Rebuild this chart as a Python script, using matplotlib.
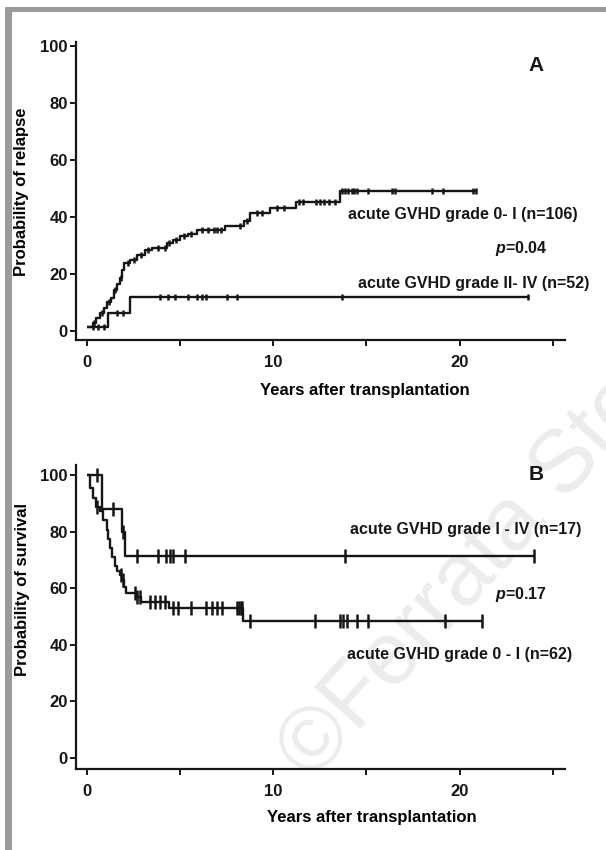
import numpy as np
import matplotlib
matplotlib.use("Agg")
import matplotlib.pyplot as plt
from matplotlib.patches import Rectangle

plt.rcParams['font.family'] = ['Liberation Sans', 'DejaVu Sans']
plt.rcParams['font.weight'] = 'bold'
plt.rcParams['axes.labelweight'] = 'bold'
plt.rcParams['mathtext.fontset'] = 'custom'
plt.rcParams['mathtext.it'] = 'Liberation Sans:bold:italic'
plt.rcParams['mathtext.rm'] = 'Liberation Sans:bold'

# --- panel A: cumulative incidence of relapse ---
a_low_t = [0, 0.3, 0.5, 0.7, 0.9, 1.1, 1.3, 1.45, 1.6, 1.75, 1.9, 2.0, 2.3, 2.7,
           3.1, 3.5, 4.3, 4.6, 5.0, 5.4, 5.9, 7.4, 8.45, 8.75, 9.85, 11.2, 13.6]
a_low_y = [1.4, 2.8, 4.5, 6.3, 8.2, 10, 11.6, 14.4, 16.5, 18.5, 21.4, 23.8, 25, 26.7,
           28.4, 29, 31, 32, 33.2, 34.2, 35.4, 36.8, 38.5, 41.4, 43.1, 45.1, 49.2]
a_low_end = 20.9
a_low_cens = [0.4, 0.8, 1.2, 1.5, 1.8, 2.2, 2.5, 2.9, 3.3, 3.8, 4.2, 4.4, 4.8, 5.2, 5.6,
              6.2, 6.5, 6.8, 7.0, 7.2, 8.2, 8.6, 9.1, 9.4, 10.2, 10.6, 11.4, 11.6, 12.3,
              12.5, 12.7, 13.0, 13.3, 13.7, 13.85, 14.0, 14.2, 14.35, 14.5, 15.1, 16.4,
              16.55, 18.5, 19.1, 20.7, 20.9]

a_high_t = [0, 1.15, 2.3]
a_high_y = [1.4, 6.3, 11.8]
a_high_end = 23.7
a_high_cens = [0.3, 0.6, 0.9, 1.6, 1.95, 3.9, 4.35, 4.7, 5.4, 5.9, 6.2, 6.4, 7.5, 8.05,
               13.7, 23.7]

# --- panel B: survival ---
b_high_t = [0, 0.8, 1.9, 2.05]
b_high_y = [100, 88, 80, 71.5]
b_high_end = 24.0
b_high_cens = [0.55, 1.4, 1.95, 2.7, 3.8, 4.25, 4.45, 4.6, 5.25, 13.85, 24.0]

b_low_t = [0, 0.15, 0.3, 0.5, 0.7, 0.85, 1.05, 1.15, 1.25, 1.35, 1.5, 1.6, 1.75, 1.9,
           2.0, 2.1, 2.7, 2.9, 4.4, 8.4]
b_low_y = [100, 95.2, 91.9, 88.7, 87.1, 83.9, 80.6, 77.4, 74.2, 71.0, 67.7, 66.1, 64.5,
           62.9, 60.4, 58.3, 56.8, 55.2, 53.0, 48.4]
b_low_end = 21.2
b_low_cens = [0.55, 1.85, 1.95, 2.6, 2.7, 2.85, 3.4, 3.65, 3.9, 4.2, 4.6, 4.9, 5.6, 6.4,
              6.7, 7.0, 7.25, 8.05, 8.15, 8.25, 8.3, 8.75, 12.25, 13.6, 13.75, 13.95,
              14.5, 15.1, 19.2, 21.2]

y_ticks = [0, 20, 40, 60, 80, 100]
x_major = [0, 10, 20]
x_minor = [5, 15, 25]

INK = '#161616'


def km(ax, t, y, end, cens, ms):
    tt = list(t) + [end]
    yy = list(y) + [y[-1]]
    ax.step(tt, yy, where='post', color=INK, lw=1.7, solid_capstyle='butt')
    idx = np.searchsorted(t, cens, side='right') - 1
    cy = np.array(y)[idx]
    ax.plot(cens, cy, ls='none', marker='|', ms=ms, mew=1.8, color=INK)


def style(ax, ylim):
    ax.set_xlim(-0.59, 25.66)
    ax.set_ylim(*ylim)
    ax.patch.set_facecolor('none')
    for s in ['top', 'right']:
        ax.spines[s].set_visible(False)
    for s in ['left', 'bottom']:
        ax.spines[s].set_linewidth(1.6)
        ax.spines[s].set_color(INK)
    ax.set_xticks(x_major)
    ax.set_xticks(x_minor, minor=True)
    ax.set_yticks(y_ticks)
    ax.tick_params(axis='both', which='both', direction='out', width=1.4,
                   length=4, color=INK, labelsize=12, labelcolor=INK)
    ax.tick_params(axis='x', which='both', pad=7)
    ax.tick_params(axis='y', pad=2)


fig = plt.figure(figsize=(6.06, 8.5), dpi=100)

# gray frame
fig.add_artist(Rectangle((5 / 606, 0), 7 / 606, 1 - 7 / 850, transform=fig.transFigure,
                         color='#9b9b9b', lw=0, zorder=-2))
fig.add_artist(Rectangle((5 / 606, 1 - 12 / 850), 1, 5 / 850, transform=fig.transFigure,
                         color='#9b9b9b', lw=0, zorder=-2))

# watermark
fig.text(490 / 606, 1 - 550 / 850, "©Ferrata Storti", rotation=48, fontsize=64,
         fontweight='normal', color='#ececec', ha='center', va='center',
         rotation_mode='anchor', zorder=-1)

axA = fig.add_axes([76 / 606, 1 - 340 / 850, 489 / 606, 298 / 850])
style(axA, (-3.16, 101.4))
km(axA, a_low_t, a_low_y, a_low_end, a_low_cens, 5)
km(axA, a_high_t, a_high_y, a_high_end, a_high_cens, 5)
axA.set_ylabel("Probability of relapse", fontsize=12)
axA.yaxis.set_label_coords(-0.096, 0.497)
axA.set_xlabel("Years after transplantation", fontsize=12)
axA.xaxis.label.set_va('center')
axA.xaxis.set_label_coords(0.591, -0.171)
axA.text(24.1, 93.3, "A", fontsize=15, ha='center', va='center', color=INK)
axA.text(14.0, 41, "acute GVHD grade 0- I (n=106)", fontsize=11.5, va='center', color=INK)
axA.text(21.9, 28.8, "$p$=0.04", fontsize=11.5, va='center', color=INK)
axA.text(14.55, 16.8, "acute GVHD grade II- IV (n=52)", fontsize=11.5, va='center', color=INK)

axB = fig.add_axes([76 / 606, 1 - 769 / 850, 489 / 606, 304 / 850])
style(axB, (-3.9, 103.5))
km(axB, b_high_t, b_high_y, b_high_end, b_high_cens, 10)
km(axB, b_low_t, b_low_y, b_low_end, b_low_cens, 10)
axB.set_ylabel("Probability of survival", fontsize=12)
axB.yaxis.set_label_coords(-0.094, 0.589)
axB.set_xlabel("Years after transplantation", fontsize=12)
axB.xaxis.label.set_va('center')
axB.xaxis.set_label_coords(0.605, -0.158)
axB.text(24.1, 100, "B", fontsize=15, ha='center', va='center', color=INK)
axB.text(14.1, 80.6, "acute GVHD grade I - IV (n=17)", fontsize=11.5, va='center', color=INK)
axB.text(21.9, 57.6, "$p$=0.17", fontsize=11.5, va='center', color=INK)
axB.text(13.96, 36.7, "acute GVHD grade 0 - I (n=62)", fontsize=11.5, va='center', color=INK)

fig.savefig("out.png", dpi=100)
